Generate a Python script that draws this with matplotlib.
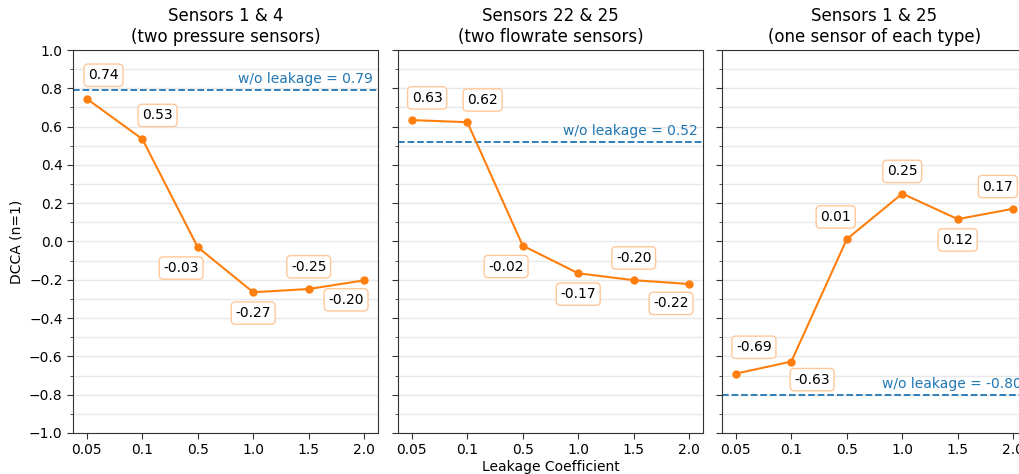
import numpy as np
import matplotlib
matplotlib.use("Agg")
import matplotlib.pyplot as plt
from matplotlib.ticker import MultipleLocator

ORANGE = "#ff7f0e"
BLUE = "#1f77b4"

coeffs = ["0.05", "0.1", "0.5", "1.0", "1.5", "2.0"]

titles = ["Sensors 1 & 4\n(two pressure sensors)",
          "Sensors 22 & 25\n(two flowrate sensors)",
          "Sensors 1 & 25\n(one sensor of each type)"]

dcca_1_4 = [0.745, 0.535, -0.03, -0.265, -0.248, -0.203]
dcca_22_25 = [0.634, 0.623, -0.022, -0.166, -0.202, -0.222]
dcca_1_25 = [-0.69, -0.627, 0.012, 0.25, 0.117, 0.171]
series = [dcca_1_4, dcca_22_25, dcca_1_25]

labels_1_4 = ["0.74", "0.53", "-0.03", "-0.27", "-0.25", "-0.20"]
labels_22_25 = ["0.63", "0.62", "-0.02", "-0.17", "-0.20", "-0.22"]
labels_1_25 = ["-0.69", "-0.63", "0.01", "0.25", "0.12", "0.17"]
labels = [labels_1_4, labels_22_25, labels_1_25]

baseline = [0.79, 0.52, -0.80]
baseline_txt = ["0.79", "0.52", "-0.80"]

# label offsets in points (layout only)
offsets = [
    [(12, 17), (11, 17), (-12, -15), (0, -15), (0, 16), (-13, -14)],
    [(11, 16), (11, 16), (-12, -15), (0, -15), (0, 16), (-13, -14)],
    [(13, 19), (15, -13), (-8, 16), (0, 16), (0, -15), (-11, 16)],
]

W, H = 1019, 474
fig = plt.figure(figsize=(W / 100, H / 100), dpi=100)

lefts = [73, 398, 722]
ax_w, ax_h, ax_b = 305, 383, 41

x = np.arange(len(coeffs))
axes = []
for i in range(3):
    ax = fig.add_axes([lefts[i] / W, ax_b / H, ax_w / W, ax_h / H])
    axes.append(ax)
    ax.set_ylim(-1.0, 1.0)
    ax.set_xlim(-0.25, 5.25)
    ax.yaxis.set_major_locator(MultipleLocator(0.2))
    ax.yaxis.set_minor_locator(MultipleLocator(0.1))
    ax.grid(True, which="both", axis="y", color="#e8e8e8", linewidth=1, zorder=0)
    ax.set_axisbelow(True)
    for sp in ax.spines.values():
        sp.set_color("#333333")
    ax.tick_params(axis="both", which="major", labelsize=10, length=4, color="#333333")
    ax.tick_params(axis="y", which="minor", length=2, color="#333333")
    ax.set_xticks(x)
    ax.set_xticklabels(coeffs)
    if i > 0:
        ax.set_yticklabels([])
    ax.set_title(titles[i], fontsize=12, pad=6)

    ax.axhline(baseline[i], color=BLUE, linestyle="--", linewidth=1.3, zorder=2)
    ax.annotate(f"w/o leakage = {baseline_txt[i]}", xy=(1.0, baseline[i]),
                xycoords=("axes fraction", "data"), xytext=(-4, 3),
                textcoords="offset points", ha="right", va="bottom",
                color=BLUE, fontsize=10)

    ax.plot(x, series[i], "o-", color=ORANGE, linewidth=1.5, markersize=5, zorder=3)
    for j, (v, lab) in enumerate(zip(series[i], labels[i])):
        ax.annotate(lab, xy=(x[j], v), xytext=offsets[i][j], textcoords="offset points",
                    ha="center", va="center", fontsize=10,
                    bbox=dict(boxstyle="round,pad=0.3", fc="white", ec="#ffc89a", lw=1))

axes[0].set_ylabel("DCCA (n=1)", fontsize=10)
axes[1].set_xlabel("Leakage Coefficient", fontsize=10, labelpad=2)

fig.savefig("out.png", dpi=100)
